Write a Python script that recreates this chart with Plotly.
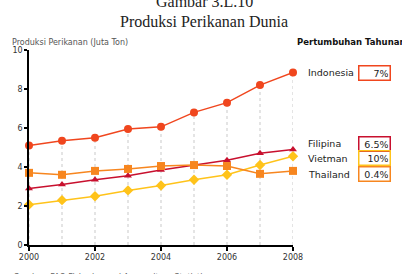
import plotly.graph_objects as go

years = [2000, 2001, 2002, 2003, 2004, 2005, 2006, 2007, 2008]
indonesia = [5.1, 5.35, 5.5, 5.95, 6.06, 6.8, 7.3, 8.2, 8.85]
thailand = [3.7, 3.6, 3.8, 3.9, 4.05, 4.1, 4.05, 3.65, 3.8]
filipina = [2.9, 3.1, 3.35, 3.55, 3.85, 4.1, 4.35, 4.7, 4.9]
vietnam = [2.07, 2.3, 2.5, 2.8, 3.05, 3.35, 3.6, 4.1, 4.55]
growth_names = ["Indonesia", "Filipina", "Vietman", "Thailand"]
growth_vals = ["7%", "6.5%", "10%", "0.4%"]

C_IDN = "#f0461e"
C_PHL = "#c8102e"
C_VNM = "#ffc31a"
C_THA = "#f7861f"

fig = go.Figure()

# drop lines from Indonesia points
dx, dy = [], []
for x, y in zip(years, indonesia):
    dx += [x, x, None]
    dy += [0, y, None]
fig.add_trace(go.Scatter(x=dx, y=dy, mode="lines",
                         line=dict(color="#bbbbbb", width=0.8, dash="dot"),
                         hoverinfo="skip", showlegend=False))

def add(y, color, symbol, size):
    fig.add_trace(go.Scatter(x=years, y=y, mode="lines+markers",
                             line=dict(color=color, width=1.5),
                             marker=dict(color=color, symbol=symbol, size=size),
                             cliponaxis=False, showlegend=False))

add(vietnam, C_VNM, "diamond", 8)
add(filipina, C_PHL, "triangle-up", 7)
add(thailand, C_THA, "square", 8)
add(indonesia, C_IDN, "circle", 8)

L, R, T, B = 20, 109, 50, 26
W, H = 402, 274
pw = W - L - R
ph = H - T - B

def px2paper(px, py):
    return (px - L) / pw, (H - B - py) / ph

annotations = []
# title
annotations.append(dict(text="Gambar 3.L.10", xref="paper", yref="paper",
                        x=(201 - L) / pw, y=px2paper(0, 1)[1], showarrow=False,
                        font=dict(family="Liberation Serif", size=16, color="#222"),
                        xanchor="center", yanchor="middle"))
annotations.append(dict(text="Produksi Perikanan Dunia", xref="paper", yref="paper",
                        x=(201 - L) / pw, y=px2paper(0, 21)[1], showarrow=False,
                        font=dict(family="Liberation Serif", size=16, color="#222"),
                        xanchor="center", yanchor="middle"))
annotations.append(dict(text="Produksi Perikanan (Juta Ton)", xref="paper", yref="paper",
                        x=px2paper(0, 0)[0], y=px2paper(0, 42)[1], showarrow=False,
                        font=dict(family="DejaVu Sans", size=8, color="#555"),
                        xanchor="left", yanchor="middle"))
annotations.append(dict(text="<b>Pertumbuhan Tahunan</b>", xref="paper", yref="paper",
                        x=px2paper(295, 0)[0], y=px2paper(0, 42)[1], showarrow=False,
                        font=dict(family="DejaVu Sans", size=8.5, color="#111"),
                        xanchor="left", yanchor="middle"))
annotations.append(dict(text="Sumber: FAO Fisheries and Aquaculture Statistics", xref="paper", yref="paper",
                        x=px2paper(2, 0)[0], y=px2paper(0, 274)[1], showarrow=False,
                        font=dict(family="DejaVu Sans", size=8, color="#666"),
                        xanchor="left", yanchor="top"))

label_y = [73, 145, 160, 176]
box_colors = [C_IDN, C_PHL, C_VNM, C_THA]
for name, val, py, bc in zip(growth_names, growth_vals, label_y, box_colors):
    xp, yp = px2paper(306, py)
    annotations.append(dict(text=name, xref="paper", yref="paper", x=xp, y=yp,
                            showarrow=False, xanchor="left", yanchor="middle",
                            font=dict(family="DejaVu Sans", size=9.5, color="#222")))
    xb, _ = px2paper(377, py)
    annotations.append(dict(text=val, xref="paper", yref="paper", x=xb, y=yp,
                            showarrow=False, xanchor="center", yanchor="middle",
                            width=28, height=11, align="right",
                            bordercolor=bc, borderwidth=1.5, borderpad=1,
                            font=dict(family="DejaVu Sans", size=9.5, color="#222")))

fig.update_layout(
    width=W, height=H,
    margin=dict(l=L, r=R, t=T, b=B),
    paper_bgcolor="white", plot_bgcolor="white",
    annotations=annotations,
    xaxis=dict(range=[2000, 2008], tickvals=[2000, 2002, 2004, 2006, 2008],
               ticks="outside", ticklen=4, tickcolor="black", tickwidth=1.5,
               showline=True, linecolor="black", linewidth=1.5, showgrid=False,
               zeroline=False, tickfont=dict(family="DejaVu Sans", size=8, color="#333")),
    yaxis=dict(range=[0, 10], tickvals=[0, 2, 4, 6, 8, 10],
               ticks="outside", ticklen=3, tickcolor="black", tickwidth=1.5,
               showline=True, linecolor="black", linewidth=1.5, showgrid=False,
               zeroline=False, tickfont=dict(family="DejaVu Sans", size=8, color="#333")),
)

fig.write_html("out.html")
